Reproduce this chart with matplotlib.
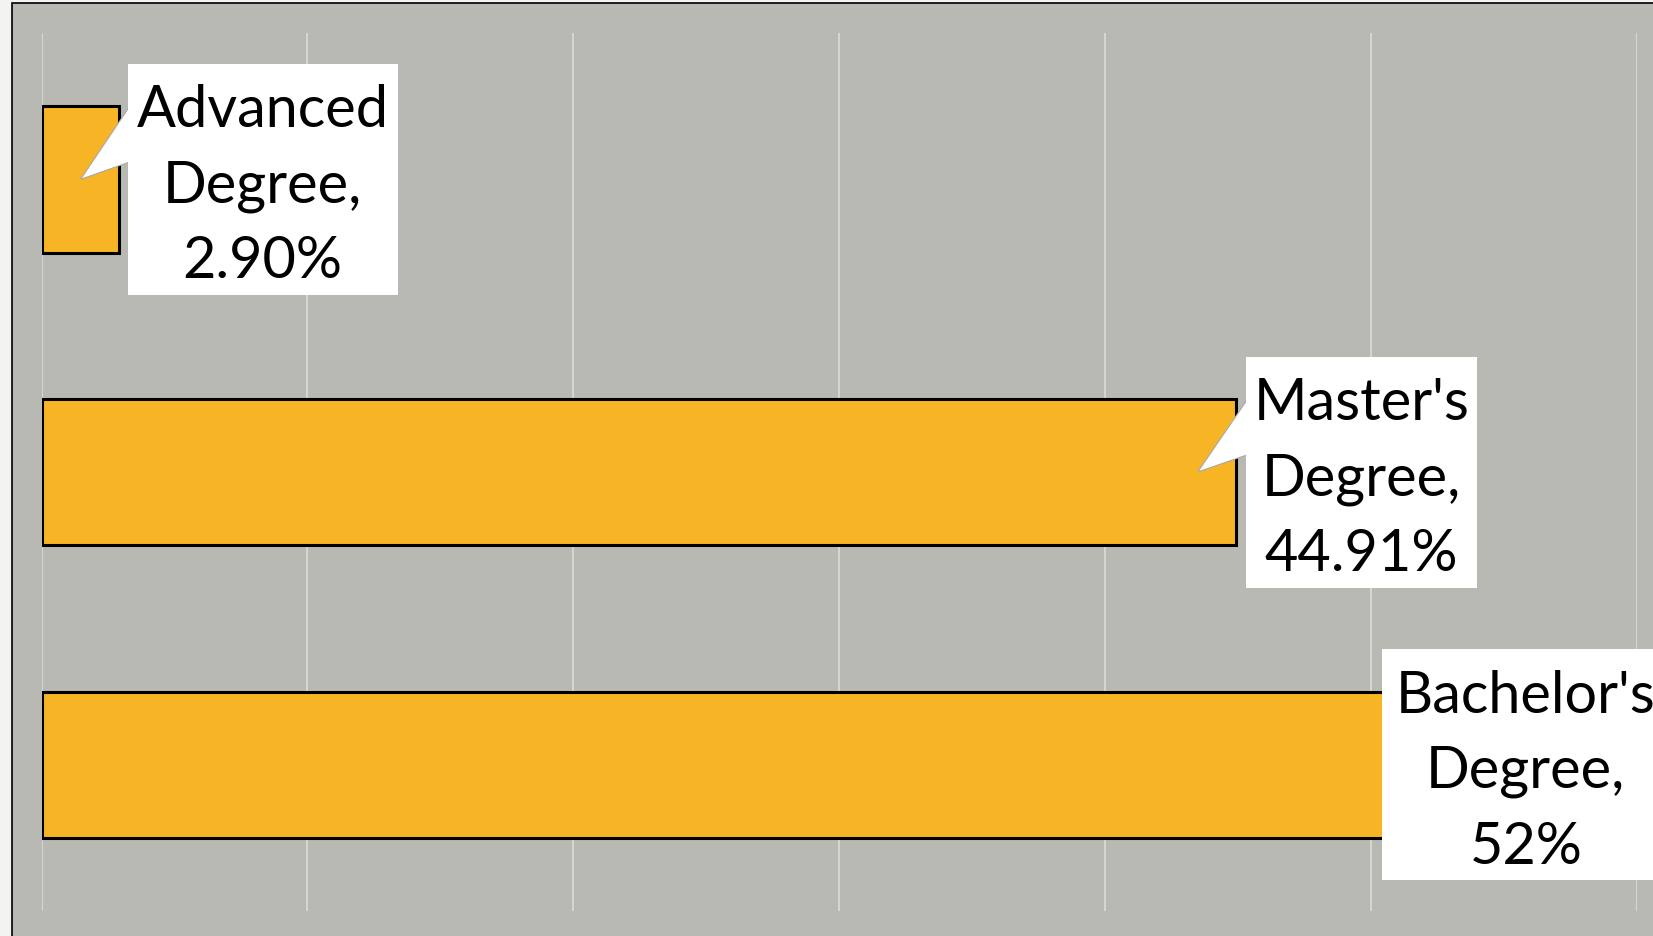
import matplotlib.pyplot as plt
from matplotlib.patches import Rectangle, Polygon

# data
categories = ["Advanced\nDegree", "Master's\nDegree", "Bachelor's\nDegree"]
values = [2.90, 44.91, 52]
value_labels = ["2.90%", "44.91%", "52%"]
grid_ticks = [0, 10, 20, 30, 40, 50, 60]

# label box placement (pixels): offset of box left from bar end, box width
box_offsets = [9, 10, -42]
box_widths = [270, 231, 287]
box_height = 231
has_pointer = [True, True, False]

W, H = 1653, 936
bar_color = "#f7b424"
panel_color = "#b9b9b3"
grid_color = "#d6d6d2"

plt.rcParams['font.family'] = ['Lato', 'DejaVu Sans']

fig = plt.figure(figsize=(W / 100, H / 100), dpi=100)
fig.patch.set_facecolor("#f3f3f1")

# gray chart panel with black frame, running off the right and bottom edges
panel = Rectangle((12 / W, -0.02), 1.05, (H - 3) / H + 0.02, transform=fig.transFigure,
                  facecolor=panel_color, edgecolor="black", linewidth=1.2, zorder=-5)
fig.patches.append(panel)

ax = fig.add_axes([41.5 / W, (H - 911) / H, (1637 - 41.5) / W, (911 - 33) / H])
ax.set_facecolor("none")
ax.set_xlim(0, 60)
ax.set_ylim(2.5, -0.5)
ax.set_xticks(grid_ticks)
ax.set_yticks([])
ax.tick_params(length=0, labelbottom=False)
ax.grid(axis="x", color=grid_color, linewidth=1.4)
ax.set_axisbelow(True)
for s in ax.spines.values():
    s.set_visible(False)

ypos = list(range(len(values)))
ax.barh(ypos, values, height=0.5, color=bar_color, edgecolor="black", linewidth=2.2, zorder=2)

# data labels as callout boxes
to_fig = fig.transFigure.inverted()
for i, v in enumerate(values):
    end_x, yc = ax.transData.transform((v, i))
    left = end_x + box_offsets[i]
    bottom = yc - box_height / 2
    if has_pointer[i]:
        pts = [(left + 4, yc + 76), (end_x - 38, yc), (left + 4, yc + 18)]
        pts = [to_fig.transform(p) for p in pts]
        fig.patches.append(Polygon(pts, closed=True, transform=fig.transFigure,
                                   facecolor="white", edgecolor="#a8a8a8",
                                   linewidth=0.8, zorder=3))
    (x0, y0) = to_fig.transform((left, bottom))
    (x1, y1) = to_fig.transform((left + box_widths[i], bottom + box_height))
    fig.patches.append(Rectangle((x0, y0), x1 - x0, y1 - y0, transform=fig.transFigure,
                                 facecolor="white", edgecolor="none", zorder=4))
    label = categories[i] + ",\n" + value_labels[i]
    tx, ty = to_fig.transform(((left + left + box_widths[i]) / 2, yc - 7))
    fig.text(tx, ty, label, ha="center", va="center",
             multialignment="center", fontsize=41.5, linespacing=1.52,
             color="black", zorder=5)

fig.savefig("out.png", dpi=100, facecolor=fig.get_facecolor())
